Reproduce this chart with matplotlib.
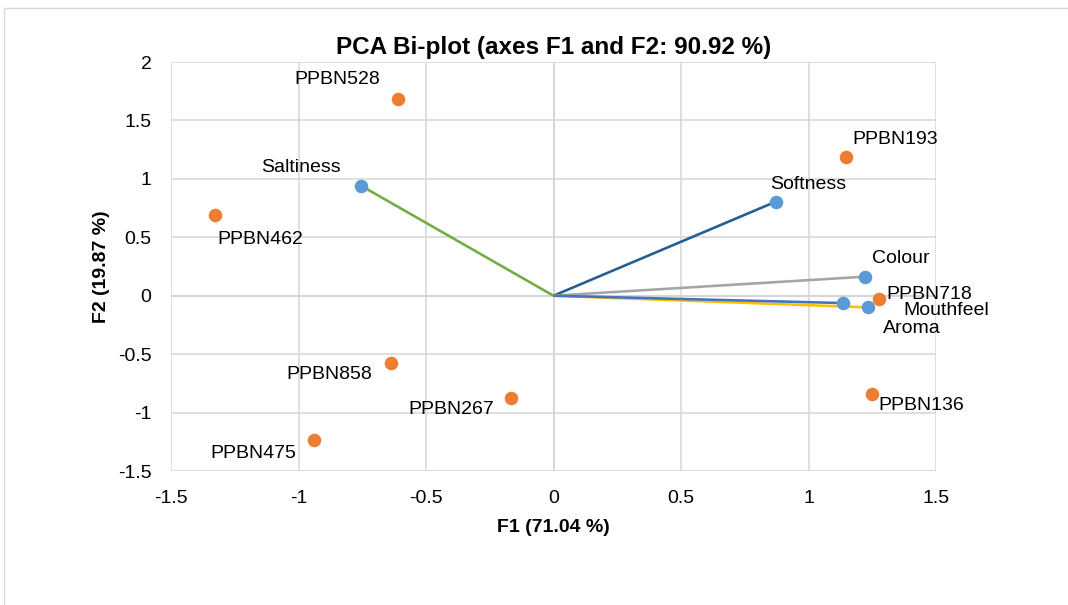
import matplotlib
matplotlib.use("Agg")
import matplotlib.pyplot as plt
from matplotlib.patches import Rectangle

plt.rcParams['font.family'] = ['Liberation Sans', 'DejaVu Sans']

# Observations (F1, F2)
obs_names = ["PPBN528", "PPBN193", "PPBN462", "PPBN718", "PPBN136", "PPBN858", "PPBN267", "PPBN475"]
obs_f1 = [-0.611, 1.148, -1.328, 1.277, 1.250, -0.638, -0.165, -0.940]
obs_f2 = [1.680, 1.185, 0.690, -0.026, -0.840, -0.575, -0.875, -1.235]

# Variables (F1, F2)
var_names = ["Saltiness", "Softness", "Colour", "Mouthfeel", "Aroma"]
var_f1 = [-0.756, 0.873, 1.222, 1.136, 1.234]
var_f2 = [0.943, 0.806, 0.163, -0.063, -0.100]

x_ticks = [-1.5, -1, -0.5, 0, 0.5, 1, 1.5]
y_ticks = [-1.5, -1, -0.5, 0, 0.5, 1, 1.5, 2]
x_ticklabels = ["-1.5", "-1", "-0.5", "0", "0.5", "1", "1.5"]
y_ticklabels = ["-1.5", "-1", "-0.5", "0", "0.5", "1", "1.5", "2"]

var_line_colors = ["#70AD47", "#255E91", "#A5A5A5", "#4472C4", "#FFC000"]
var_line_order = [0, 1, 2, 4, 3]  # draw yellow under blue

# label offsets in pixels (dx, dy, ha)
obs_offsets = {
    "PPBN528": (-18, 20, "right"),
    "PPBN193": (6, 18, "left"),
    "PPBN462": (3, -24, "left"),
    "PPBN718": (7, 4, "left"),
    "PPBN136": (6, -12, "left"),
    "PPBN858": (-19, -12, "right"),
    "PPBN267": (-17, -12, "right"),
    "PPBN475": (-18, -13, "right"),
}
var_offsets = {
    "Saltiness": (-20, 18, "right"),
    "Softness": (-6, 17, "left"),
    "Colour": (7, 18, "left"),
    "Mouthfeel": (60, -7, "left"),
    "Aroma": (15, -21, "left"),
}

W, H, DPI = 1068, 605, 100
FS = 14
fig = plt.figure(figsize=(W / DPI, H / DPI), dpi=DPI)
fig.patch.set_facecolor("white")
fig.patches.append(Rectangle((4 / W, -0.05), 1.2, (1 - 8 / H) + 0.05, transform=fig.transFigure,
                             fill=False, edgecolor="#D9D9D9", linewidth=1.0))

ax = fig.add_axes([171 / W, 1 - 471 / H, 765 / W, 409 / H])
ax.set_xlim(-1.5, 1.5)
ax.set_ylim(-1.5, 2)
ax.set_xticks(x_ticks)
ax.set_xticklabels(x_ticklabels)
ax.set_yticks(y_ticks)
ax.set_yticklabels(y_ticklabels)
ax.grid(True, color="#D9D9D9", linewidth=1.2, zorder=0)
ax.set_axisbelow(True)
for s in ax.spines.values():
    s.set_visible(False)
ax.tick_params(length=0, labelsize=FS, colors="black")
ax.tick_params(axis="x", pad=14)
ax.tick_params(axis="y", pad=14)
ax.axvline(0, color="#BFBFBF", linewidth=1.2, zorder=0.5)
ax.axhline(0, color="#BFBFBF", linewidth=1.2, zorder=0.5)

px = 72 / DPI
for i in var_line_order:
    ax.plot([0, var_f1[i]], [0, var_f2[i]], color=var_line_colors[i], linewidth=2.6 * px, zorder=2,
            solid_capstyle="butt")

ax.scatter(var_f1, var_f2, s=95, color="#5B9BD5", zorder=3, linewidths=0)
ax.scatter(obs_f1, obs_f2, s=95, color="#ED7D31", zorder=3, linewidths=0)

for n, x, y in zip(obs_names, obs_f1, obs_f2):
    dx, dy, ha = obs_offsets[n]
    ax.annotate(n, (x, y), xytext=(dx * px, dy * px), textcoords="offset points",
                ha=ha, va="center", fontsize=FS, zorder=4)
for n, x, y in zip(var_names, var_f1, var_f2):
    dx, dy, ha = var_offsets[n]
    ax.annotate(n, (x, y), xytext=(dx * px, dy * px), textcoords="offset points",
                ha=ha, va="center", fontsize=FS, zorder=4)

ax.set_title("PCA Bi-plot (axes F1 and F2: 90.92 %)", fontsize=17.5, fontweight="bold", pad=6)
ax.set_xlabel("F1 (71.04 %)", fontsize=FS, fontweight="bold", labelpad=8)
ax.set_ylabel("F2 (19.87 %)", fontsize=FS, fontweight="bold", labelpad=6)

fig.savefig("out.png", dpi=DPI)
